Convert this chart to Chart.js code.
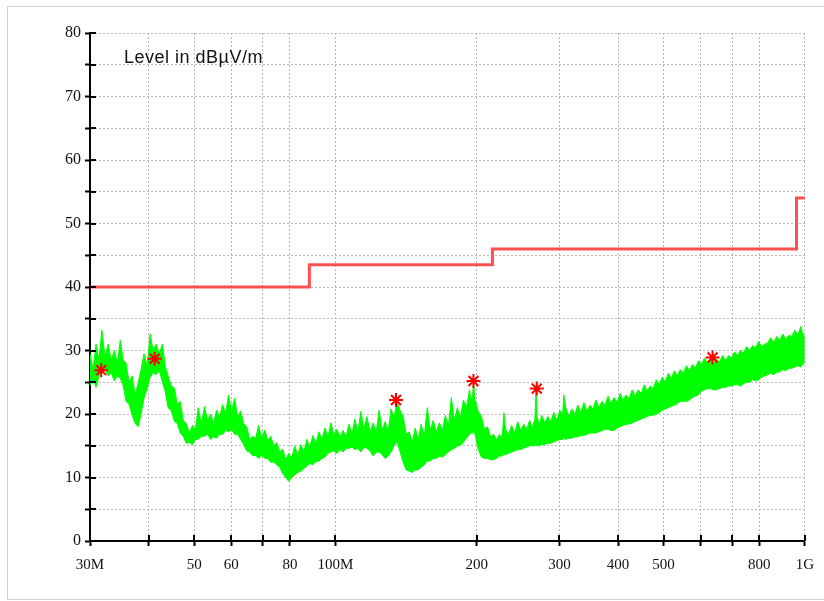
<!DOCTYPE html>
<html lang="en">
<head>
    <meta charset="UTF-8">
    <title>Level in dBµV/m</title>
    <script src="https://cdn.jsdelivr.net/npm/chart.js@4.4.1/dist/chart.umd.min.js"></script>
    <style>
        body {
            margin: 0;
            background: #fff;
            overflow: hidden;
        }

        .frame {
            position: absolute;
            left: 7px;
            top: 6px;
            width: 840px;
            height: 592px;
            border: 1px solid #cfcfcf;
        }

        .chart-box {
            position: absolute;
            left: 0;
            top: 0;
            width: 824px;
            height: 601px;
        }

        .level-label {
            position: absolute;
            left: 124px;
            top: 48px;
            font-family: "Liberation Sans", Arial, sans-serif;
            font-size: 18px;
            line-height: 18px;
            letter-spacing: 0.5px;
            color: #111;
        }
    </style>
</head>
<body>
    <div class="frame"></div>
    <div class="chart-box">
        <canvas id="emc-chart" width="824" height="601"></canvas>
    </div>
    <div class="level-label">Level in dBµV/m</div>

    <script>
        // sweep frequencies (MHz) with the upper and lower edge of the measured trace
        const sweepMHz = [
            30, 30.45, 30.9, 31.35, 31.8, 32.3, 32.8, 33.3, 33.8, 34.3,
            34.8, 35.3, 35.8, 36.35, 36.9, 37.45, 38, 38.55, 39.1, 39.7,
            40.3, 40.9, 41.5, 42.15, 42.8, 43.4, 44, 44.7, 45.4, 46.05,
            46.7, 47.4, 48.1, 48.85, 49.6, 50.3, 51, 51.8, 52.6, 53.4,
            54.2, 55, 55.8, 56.65, 57.5, 58.35, 59.2, 60.1, 61, 61.9,
            62.8, 63.75, 64.7, 65.65, 66.6, 67.6, 68.6, 69.65, 70.7, 71.75,
            72.8, 73.9, 75, 76.1, 77.2, 78.35, 79.5, 80.7, 81.9, 83.15,
            84.4, 85.65, 86.9, 88.2, 89.5, 90.85, 92.2, 93.6, 95, 96.4,
            97.8, 99.25, 100.7, 102.25, 103.8, 105.35, 106.9, 108.45, 110, 111.65,
            113.3, 115, 116.7, 118.5, 120.3, 122.1, 123.9, 125.75, 127.6, 129.5,
            131.4, 133.35, 135.3, 137.35, 139.4, 141.5, 143.6, 145.75, 147.9, 150.1,
            152.3, 154.6, 156.9, 159.25, 161.6, 164, 166.5, 169, 171.5, 174,
            176.6, 179.25, 181.9, 184.6, 187.4, 190.2, 193, 194.5, 196, 197,
            198, 201.3, 204.7, 207.8, 210.9, 214, 217.2, 220.4, 223.7, 225.3,
            227, 228.5, 230.4, 233.8, 237.3, 240.9, 244.5, 248.1, 251.8, 255.5,
            259.3, 262.6, 266, 267.5, 269, 272, 275.1, 279.2, 283.4, 287.6,
            291.9, 296.2, 300.6, 305, 306.5, 309.6, 314.2, 318.9, 323.7, 328.5,
            333.4, 338.3, 343.4, 348.5, 353.7, 358.9, 364.3, 369.7, 375.2, 380.8,
            386.5, 392.2, 398.1, 404, 410, 416.1, 422.3, 428.6, 435, 441.4,
            448, 454.7, 461.5, 468.3, 475.3, 482.4, 489.6, 496.8, 504.2, 511.7,
            519.4, 527.1, 535, 542.9, 551, 559.2, 567.6, 576, 584.6, 593.2,
            602.1, 611, 620.1, 629.3, 638.7, 648.2, 657.9, 667.7, 677.7, 687.7,
            698, 708.3, 718.9, 729.6, 740.5, 751.5, 762.7, 774, 785.6, 797.2,
            809.1, 821.1, 833.4, 845.8, 858.4, 871.1, 884.2, 897.3, 910.7, 924.2,
            938, 951.9, 966.2, 980.5, 990, 1000
        ];
        const peakLevel = [
            29.5, 27, 31, 28.5, 33.2, 29, 31, 28.5, 30, 28,
            31.6, 28.5, 28, 25, 26, 23, 25, 27, 29.5, 27.5,
            32.6, 30, 31, 29.5, 31, 27.5, 26, 24.5, 24, 21.5,
            22, 19, 18.5, 17, 18.2, 17.5, 21, 18.5, 21.2, 19,
            20, 18.5, 20.6, 19.5, 21.5, 20, 23, 20.5, 22.5, 19.5,
            20.5, 18.5, 18, 16, 16.5, 16.2, 18.2, 16.2, 17.5, 15.8,
            16.5, 15, 15.5, 14, 14.5, 12.8, 13.8, 13, 15, 13.5,
            15.2, 14, 16, 14.8, 16.6, 15.4, 17.2, 16, 17.8, 16.4,
            18.6, 16.8, 17.6, 16.4, 17.4, 16.4, 18.4, 16.8, 19.2, 17.2,
            20.4, 17.6, 19.6, 17.2, 18.6, 17, 20.6, 17.4, 18.8, 17.2,
            20.8, 19.4, 22, 20.5, 19.6, 16.8, 17.2, 15.6, 17.8, 16,
            18.4, 16.4, 21, 17.4, 19, 17.2, 18.6, 17.4, 19.8, 18,
            22.6, 19, 21, 19.4, 22.2, 21, 23.8, 22, 23, 25.2,
            22.5, 20.5, 19.6, 17.6, 18, 16.4, 16.8, 16, 16.8, 16.2,
            17, 20.2, 17.6, 16.8, 18.2, 17, 18.8, 17.4, 18.4, 17.6,
            19, 17.8, 19.2, 24, 19.4, 18.4, 19.8, 18.6, 19.6, 18.8,
            20.2, 19, 20.6, 20, 23, 21, 19.6, 20.8, 20, 21.4,
            20.2, 21.8, 20.4, 21.4, 20.8, 22.2, 21, 22, 21.4, 22.8,
            21.6, 22.6, 21.8, 23.2, 22.2, 23, 22.4, 23.8, 22.8, 23.8,
            23.2, 24.6, 23.6, 24.4, 24, 25.4, 24.6, 25.8, 25, 26.4,
            25.6, 26.8, 26, 27, 26.4, 27.6, 26.8, 27.8, 27.2, 28.4,
            27.8, 28.8, 28, 28.6, 28, 28.6, 28.2, 29.2, 28.4, 29.2,
            28.8, 29.8, 29.2, 30, 29.6, 30.6, 30, 30.8, 30.4, 31.4,
            30.6, 31, 31.2, 32, 31.2, 32.2, 31.6, 32.6, 31.8, 32.4,
            32.2, 33.2, 32.4, 33.8, 32.6, 32.2
        ];
        const floorLevel = [
            24.5, 25.5, 24.2, 26, 26.5, 27, 26, 26.5, 25.2, 26,
            25.6, 24.5, 22, 21.5, 19.8, 18.5, 18, 20, 22.5, 24,
            25.8, 26.5, 26.2, 26.8, 25, 23.5, 21, 20.5, 18.8, 18.5,
            17, 16.5, 15.4, 15.5, 15.2, 16, 16, 16.5, 16.5, 16.8,
            16, 16.4, 16.2, 16.8, 16.8, 17.4, 17.2, 17.5, 16.8, 16.8,
            16, 15.2, 14.2, 14, 13.4, 13.5, 13, 13.5, 13, 13,
            12.4, 12.4, 12, 11.6, 10.6, 10, 9.4, 10, 10.4, 10.8,
            11, 11.4, 11.8, 12.2, 12, 12.5, 12.6, 13, 13.2, 13.8,
            14, 14.2, 13.8, 14.4, 14, 14.6, 14.6, 14.8, 14.4, 14.6,
            14, 14.8, 14.6, 14.2, 13.4, 14, 14, 13.6, 13, 13.4,
            14, 15, 15.6, 14, 12.4, 11.2, 11, 10.8, 11.2, 11.2,
            11.6, 12, 12.6, 12.6, 13, 13, 13.4, 13.2, 13.6, 14,
            14.4, 14.6, 15, 15, 15.6, 16.2, 16.8, 17, 17, 17.4,
            17, 14.5, 13.2, 13, 13, 12.8, 12.8, 13, 13.4, 13.4,
            13.4, 13.6, 13.6, 13.8, 14, 14.2, 14.4, 14.4, 14.6, 14.8,
            15, 15, 15, 15.4, 15, 15, 15.2, 15.2, 15.4, 15.4,
            15.6, 15.8, 16, 16, 16.2, 16, 16.2, 16.2, 16.4, 16.4,
            16.6, 16.6, 16.8, 17, 17, 17, 17.2, 17.4, 17.6, 17.6,
            17.4, 17.4, 17.8, 18, 18.2, 18.4, 18.4, 18.6, 18.8, 19,
            19.2, 19.4, 19.6, 19.8, 19.8, 20, 20.2, 20.6, 20.8, 21,
            21.2, 21.4, 21.6, 22, 22, 22, 22.2, 22.6, 22.8, 23,
            23.6, 23.8, 24, 24, 23.8, 23.8, 24, 24.2, 24.2, 24.4,
            24.4, 24.6, 24.6, 24.4, 24.8, 25, 25, 25.4, 25.2, 25.4,
            25.8, 26, 26.2, 26.4, 26.2, 26.6, 26.6, 27, 26.8, 27.2,
            27.2, 27.4, 27.6, 27.4, 27.8, 28.2
        ];

        // limit line
        const limitMHz = [30, 88, 88, 216, 216, 960, 960, 1000];
        const limitLevel = [40, 40, 43.5, 43.5, 46, 46, 54, 54];

        // final measurement markers
        const markerMHz = [31.7, 41.2, 134.6, 196.8, 268.5, 636];
        const markerLevel = [26.9, 28.7, 22.2, 25.2, 24.0, 28.9];

        // axis ticks
        const xTickValues = [30, 40, 50, 60, 70, 80, 100, 200, 300, 400, 500, 600, 700, 800, 1000];
        const xTickLabels = ['30M', '', '50', '60', '', '80', '100M', '200', '300', '400', '500', '', '', '800', '1G'];

        const toPoints = (xs, ys) => xs.map((x, i) => ({ x: x, y: ys[i] }));

        // inner half of the tick marks (ticks cross the axis line)
        const innerTicks = {
            id: 'innerTicks',
            afterDraw(chart) {
                const { ctx, chartArea, scales } = chart;
                ctx.save();
                ctx.strokeStyle = '#000';
                ctx.lineWidth = 2;
                ctx.beginPath();
                scales.x.ticks.forEach(t => {
                    const px = Math.round(scales.x.getPixelForValue(t.value));
                    ctx.moveTo(px, chartArea.bottom);
                    ctx.lineTo(px, chartArea.bottom - 6);
                });
                scales.y.ticks.forEach(t => {
                    const py = Math.round(scales.y.getPixelForValue(t.value));
                    ctx.moveTo(chartArea.left, py);
                    ctx.lineTo(chartArea.left + 6, py);
                });
                ctx.stroke();
                ctx.restore();
            }
        };

        const ctx = document.getElementById('emc-chart').getContext('2d');
        new Chart(ctx, {
            type: 'line',
            data: {
                datasets: [
                    {
                        type: 'scatter',
                        data: toPoints(markerMHz, markerLevel),
                        pointStyle: 'star',
                        pointRadius: 7,
                        borderColor: '#ff0000',
                        backgroundColor: '#ff0000',
                        borderWidth: 2
                    },
                    {
                        data: toPoints(limitMHz, limitLevel),
                        borderColor: '#ff4f4f',
                        borderWidth: 3,
                        pointRadius: 0,
                        fill: false
                    },
                    {
                        data: toPoints(sweepMHz, peakLevel),
                        borderColor: '#00ff00',
                        backgroundColor: '#00ff00',
                        borderWidth: 1,
                        pointRadius: 0,
                        fill: '+1'
                    },
                    {
                        data: toPoints(sweepMHz, floorLevel),
                        borderColor: '#00ff00',
                        borderWidth: 1,
                        pointRadius: 0,
                        fill: false
                    }
                ]
            },
            options: {
                responsive: false,
                animation: false,
                layout: {
                    padding: { left: 0, right: 19, top: 33, bottom: 0 }
                },
                plugins: {
                    legend: { display: false },
                    tooltip: { enabled: false }
                },
                scales: {
                    x: {
                        type: 'logarithmic',
                        min: 30,
                        max: 1000,
                        afterBuildTicks: (scale) => {
                            scale.ticks = xTickValues.map(v => ({ value: v }));
                        },
                        afterFit: (scale) => { scale.height = 60; },
                        grid: {
                            color: '#b8b8b8',
                            lineWidth: 1,
                            tickColor: '#000',
                            tickWidth: 2,
                            tickLength: 5
                        },
                        border: { display: true, color: '#000', width: 2, dash: [2, 2] },
                        ticks: {
                            autoSkip: false,
                            maxRotation: 0,
                            padding: 10,
                            color: '#111',
                            font: { family: '"Liberation Serif", "Times New Roman", serif', size: 15 },
                            callback: (value) => {
                                const i = xTickValues.indexOf(value);
                                return i >= 0 ? xTickLabels[i] : '';
                            }
                        }
                    },
                    y: {
                        min: 0,
                        max: 80,
                        afterFit: (scale) => { scale.width = 90; },
                        grid: {
                            color: '#b8b8b8',
                            lineWidth: 1,
                            tickColor: '#000',
                            tickWidth: 2,
                            tickLength: 5
                        },
                        border: { display: true, color: '#000', width: 2, dash: [2, 2] },
                        ticks: {
                            stepSize: 5,
                            padding: 4,
                            color: '#111',
                            font: { family: '"Liberation Serif", "Times New Roman", serif', size: 16 },
                            callback: (value) => (value % 10 === 0 ? String(value) : '')
                        }
                    }
                }
            },
            plugins: [innerTicks]
        });
    </script>
</body>
</html>
